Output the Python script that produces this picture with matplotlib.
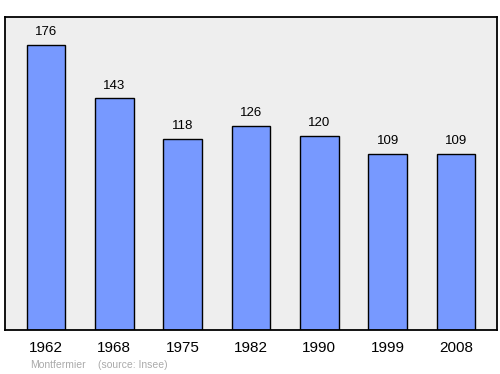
import matplotlib.pyplot as plt

years = ['1962', '1968', '1975', '1982', '1990', '1999', '2008']
population = [176, 143, 118, 126, 120, 109, 109]
town = 'Montfermier'
source = '(source: Insee)'

plt.rcParams['font.family'] = ['Liberation Sans', 'DejaVu Sans']

fig = plt.figure(figsize=(5, 3.74), dpi=100)
ax = fig.add_axes([5 / 500, 1 - 330 / 374, 492 / 500, 313 / 374])
ax.set_facecolor('#eeeeee')

x = range(len(years))
ax.bar(x, population, width=0.57, color='#7799ff', edgecolor='black', linewidth=1)

# value labels above each bar
for i, v in zip(x, population):
    ax.annotate(str(v), (i, v), xytext=(0, 5), textcoords='offset points',
                ha='center', va='bottom', fontsize=9.5)

ax.set_xlim(-0.6, 6.6)
ax.set_ylim(0, 193.3)
ax.set_yticks([])
ax.set_xticks(list(x))
ax.set_xticklabels(years, fontsize=11)
ax.tick_params(axis='x', length=0, pad=8)
for s in ax.spines.values():
    s.set_linewidth(1.3)

fig.text(30 / 500, 1 - 365 / 374, town, fontsize=7.5, color='#aaaaaa', va='center')
fig.text(98 / 500, 1 - 365 / 374, source, fontsize=7.5, color='#aaaaaa', va='center')

fig.savefig('out.png', dpi=100)
